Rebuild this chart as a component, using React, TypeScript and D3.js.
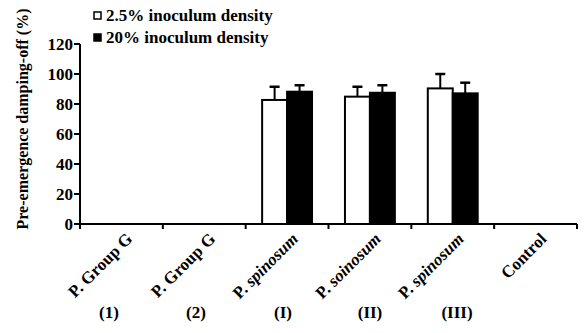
import * as d3 from 'd3'

// values
const categories = ['P. Group G (1)', 'P. Group G (2)', 'P. spinosum (I)', 'P. soinosum (II)', 'P. spinosum (III)', 'Control']
const labelPrefix = ['P.', 'P.', 'P.', 'P.', 'P.', '']
const labelNames = ['Group G', 'Group G', 'spinosum', 'soinosum', 'spinosum', 'Control']
const labelItalic = [false, false, true, true, true, false]
const strainLabels = ['(1)', '(2)', '(I)', '(II)', '(III)']
const series = ['2.5% inoculum density', '20% inoculum density']
const lowDensity = [null, null, 82.7, 84.9, 90.4, null]
const lowDensityErr = [0, 0, 8.8, 6.6, 9.6, 0]
const highDensity = [null, null, 88.2, 87.5, 87.1, null]
const highDensityErr = [0, 0, 4.3, 5, 7.1, 0]
const yTicks = [0, 20, 40, 60, 80, 100, 120]

const FONT = 'Liberation Serif'
const LABEL_SIZE = 17

// width of a text run, used to butt the plain "P." against the italic name
function textWidth(s: string, italic: boolean) {
  const ctx = document.createElement('canvas').getContext('2d')
  if (!ctx) return s.length * 8
  ctx.font = `${italic ? 'italic ' : ''}bold ${LABEL_SIZE}px "${FONT}"`
  return ctx.measureText(s).width
}

export default function App() {
  const width = 584
  const height = 333
  const marginLeft = 80
  const marginRight = 7
  const yTop = 44
  const yBottom = 224

  const x = d3.scaleBand<string>().domain(categories).range([marginLeft, width - marginRight])
  const sub = d3.scaleBand<number>().domain([0, 1]).range([0, x.bandwidth()]).paddingOuter(0.66).paddingInner(0)
  const y = d3.scaleLinear().domain([0, 120]).range([yBottom, yTop])
  const xEdge = d3.scaleLinear().domain([0, categories.length]).range([marginLeft, width - marginRight])
  const xs = d3.scalePoint<string>().domain(strainLabels).range([109, 457])

  const bars = categories.flatMap((c, i) => [
    { key: c, s: 0, v: lowDensity[i], e: lowDensityErr[i] },
    { key: c, s: 1, v: highDensity[i], e: highDensityErr[i] },
  ]).filter((d) => d.v != null) as { key: string; s: number; v: number; e: number }[]

  return (
    <svg width={width} height={height} style={{ position: 'absolute', left: 0, top: 0 }}>
      {/* error bars, upper half only */}
      {bars.map((d, i) => {
        const cx = x(d.key)! + sub(d.s)! + sub.bandwidth() / 2
        return (
          <g key={'e' + i} stroke="#000">
            <line x1={cx} x2={cx} y1={y(d.v)} y2={y(d.v + d.e)} strokeWidth={2} />
            <line x1={cx - 5} x2={cx + 5} y1={y(d.v + d.e)} y2={y(d.v + d.e)} strokeWidth={2.5} />
          </g>
        )
      })}
      {bars.map((d, i) => (
        <rect key={'b' + i}
          x={x(d.key)! + sub(d.s)!} y={y(d.v)}
          width={sub.bandwidth()} height={y(0) - y(d.v)}
          fill={d.s === 0 ? '#fff' : '#000'} stroke="#000" strokeWidth={2} />
      ))}

      {/* y axis */}
      <line x1={marginLeft} x2={marginLeft} y1={yTop} y2={yBottom + 1} stroke="#000" strokeWidth={2} />
      {yTicks.map((t) => (
        <g key={t}>
          <line x1={marginLeft - 6} x2={marginLeft} y1={y(t)} y2={y(t)} stroke="#000" strokeWidth={2} />
          <text x={marginLeft - 7} y={y(t) + 6} textAnchor="end" fontFamily={FONT} fontWeight="bold" fontSize={17}>{t}</text>
        </g>
      ))}

      {/* x axis, ticks on band edges */}
      <line x1={marginLeft - 1} x2={width - marginRight} y1={yBottom} y2={yBottom} stroke="#000" strokeWidth={2} />
      {d3.range(categories.length + 1).map((k) => (
        <line key={k} x1={xEdge(k)} x2={xEdge(k)} y1={yBottom} y2={yBottom + 5} stroke="#000" strokeWidth={2} />
      ))}
      {categories.map((c, i) => {
        const ax = x(c)! + x.bandwidth() / 2 + 12
        const ay = yBottom + 16
        const shift = textWidth(labelNames[i], labelItalic[i]) + textWidth(' ', false)
        return (
          <g key={c}>
            <text transform={`translate(${ax},${ay}) rotate(-45)`} textAnchor="end"
              fontFamily={FONT} fontWeight="bold" fontStyle={labelItalic[i] ? 'italic' : 'normal'} fontSize={LABEL_SIZE}>
              {labelNames[i]}
            </text>
            {labelPrefix[i] && (
              <text transform={`translate(${ax},${ay}) rotate(-45) translate(${-shift},0)`} textAnchor="end"
                fontFamily={FONT} fontWeight="bold" fontSize={LABEL_SIZE}>
                {labelPrefix[i]}
              </text>
            )}
          </g>
        )
      })}
      {strainLabels.map((s) => (
        <text key={s} x={xs(s)} y={318} textAnchor="middle" fontFamily={FONT} fontWeight="bold" fontSize={17}>{s}</text>
      ))}

      {/* y label */}
      <text transform={`translate(28,${(yTop + yBottom) / 2 - 15}) rotate(-90)`} textAnchor="middle"
        fontFamily={FONT} fontWeight="bold" fontSize={16}>Pre-emergence damping-off (%)</text>

      {/* legend */}
      {series.map((s, i) => (
        <g key={s}>
          <rect x={94} y={12 + i * 22} width={7} height={7} fill={i === 0 ? '#fff' : '#000'} stroke="#000" strokeWidth={1.5} />
          <text x={106} y={21 + i * 22} fontFamily={FONT} fontWeight="bold" fontSize={17}>{s}</text>
        </g>
      ))}
    </svg>
  )
}
